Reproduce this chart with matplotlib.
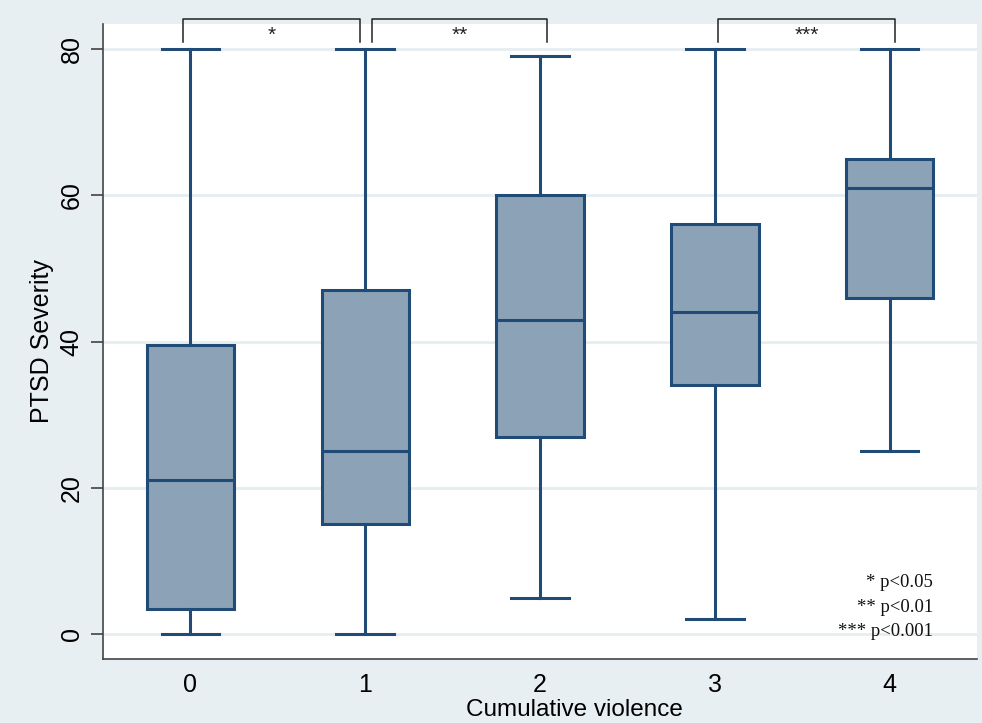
import matplotlib.pyplot as plt

plt.rcParams['font.family'] = ['Liberation Sans', 'DejaVu Sans']

# PTSD severity by cumulative violence level (five-number summaries)
groups = ['0', '1', '2', '3', '4']
whislo = [0, 0, 5, 2, 25]
q1 = [3.5, 15, 27, 34, 46]
med = [21, 25, 43, 44, 61]
q3 = [39.5, 47, 60, 56, 65]
whishi = [80, 80, 79, 80, 80]

# pairwise comparisons: (left end, right end, label)
pairs = [(-0.045, 0.97, '*'), (1.04, 2.04, '**'), (3.02, 4.03, '***')]
legend_lines = ['* p<0.05', '** p<0.01', '*** p<0.001']

bg = '#e8eff3'
face = '#8ca2b6'
edge = '#1f4b76'

fig = plt.figure(figsize=(9.82, 7.23), dpi=100, facecolor=bg)
ax = fig.add_axes([103 / 982, 64 / 723, 874 / 982, 635 / 723])
ax.set_facecolor('white')

stats = []
for i in range(len(groups)):
    stats.append(dict(whislo=whislo[i], q1=q1[i], med=med[i], q3=q3[i],
                      whishi=whishi[i], fliers=[], label=groups[i]))

ax.bxp(stats, positions=range(len(groups)), widths=0.5, patch_artist=True,
       showfliers=False,
       boxprops=dict(facecolor=face, edgecolor=edge, linewidth=2.2),
       medianprops=dict(color=edge, linewidth=2.2),
       whiskerprops=dict(color=edge, linewidth=2.2),
       capprops=dict(color=edge, linewidth=2.2),
       capwidths=0.33, zorder=3)

ax.set_xlim(-0.5, 4.5)
ax.set_ylim(-3.4, 83.4)
ax.set_yticks([0, 20, 40, 60, 80])
ax.yaxis.grid(True, color='#e6eef1', linewidth=2, zorder=0)
ax.set_axisbelow(True)

for s in ['top', 'right']:
    ax.spines[s].set_visible(False)
for s in ['left', 'bottom']:
    ax.spines[s].set_color('#444444')
    ax.spines[s].set_linewidth(1.2)

ax.tick_params(axis='y', length=9, width=1.1, color='#333333', pad=5,
               labelsize=18, labelrotation=90)
for lab in ax.get_yticklabels():
    lab.set_verticalalignment('center')
ax.tick_params(axis='x', length=0, pad=10, labelsize=18)
ax.set_xticklabels(groups)

ax.set_ylabel('PTSD Severity', fontsize=18, labelpad=4)
fig.text(574 / 982, 1 - 710 / 723, 'Cumulative violence', fontsize=17.5,
         ha='center', va='center')

# significance brackets above the boxes
for x0, x1, lab in pairs:
    ax.plot([x0, x0, x1, x1], [81.0, 84.1, 84.1, 81.0], color='#222222',
            linewidth=1.1, clip_on=False, zorder=4)
    ax.text((x0 + x1) / 2, 81.9, lab, ha='center', va='center',
            fontsize=15, color='#222222', clip_on=False)

for k, line in enumerate(legend_lines):
    ax.text(4.25, 7.0 - k * 3.35, line, ha='right', va='center',
            fontsize=13.5, family='Liberation Serif', color='#111111')

fig.savefig('out.png', dpi=100, facecolor=bg)
